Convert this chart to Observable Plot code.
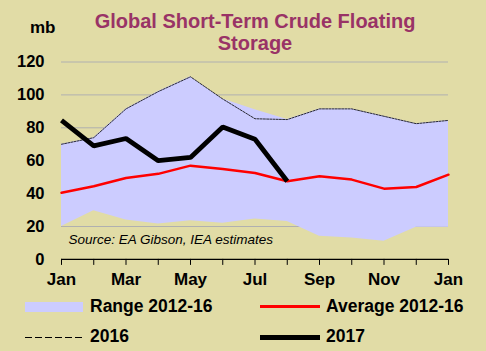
<!DOCTYPE html>
<html>
<head>
<meta charset="utf-8">
<script src="https://cdn.jsdelivr.net/npm/d3@7"></script>
<script src="https://cdn.jsdelivr.net/npm/@observablehq/plot@0.6"></script>
<style>
  html, body { margin: 0; padding: 0; }
  body { width: 486px; height: 351px; background: #E1DCA6; position: relative; overflow: hidden;
         font-family: "Liberation Sans", Arial, sans-serif; }
  .abs { position: absolute; white-space: nowrap; }
  #title { left: 0; width: 510px; top: 9.5px; text-align: center; font-size: 20px; font-weight: bold;
           line-height: 22.5px; color: #993366; }
  #mb { left: 30px; top: 19px; font-size: 17px; font-weight: bold; line-height: 1; color: #000; }
  #chart { left: 0; top: 50px; }
  .lg { font-size: 17.5px; font-weight: bold; line-height: 1; color: #000; }
</style>
</head>
<body>
<div id="title" class="abs">Global Short-Term Crude Floating<br>Storage</div>
<div id="mb" class="abs">mb</div>
<div id="chart" class="abs"></div>

<div class="abs" style="left:25px;top:302.3px;width:58px;height:9.4px;background:#CCCCFF"></div>
<div class="abs lg" style="left:90px;top:297.5px">Range 2012-16</div>
<div class="abs" style="left:260px;top:305.3px;width:60px;height:3px;background:#FF0000"></div>
<div class="abs lg" style="left:326px;top:297.5px">Average 2012-16</div>
<div class="abs" style="left:25px;top:337px;width:58px;height:1px;background:repeating-linear-gradient(to right,#000 0 7px,transparent 7px 10px)"></div>
<div class="abs lg" style="left:90px;top:327.5px">2016</div>
<div class="abs" style="left:260px;top:334.5px;width:60px;height:5px;background:#000"></div>
<div class="abs lg" style="left:326px;top:327.5px">2017</div>

<script>
const months = ["Jan","Feb","Mar","Apr","May","Jun","Jul","Aug","Sep","Oct","Nov","Dec","Jan"];
const rangeLow  = [20, 29.5, 24, 21.5, 23.5, 22, 24.5, 23, 14, 13, 11, 19.5, 19.5];
const rangeHigh = [70, 74, 91.5, 102, 111, 97.5, 91, 85, 91.5, 91.5, 87, 82.5, 84.5];
const avg2012_16 = [40.5, 44.5, 49.5, 52, 57, 55, 52.5, 47.5, 50.5, 48.5, 43, 44, 51.5];
const y2016 = [70, 74, 91.5, 102, 111, 97.5, 85.5, 85, 91.5, 91.5, 87, 82.5, 84.5];
const y2017 = [84.5, 69, 73.5, 60, 62, 80.5, 73, 47.5];
const yTicks = [0, 20, 40, 60, 80, 100, 120];
const sourceText = "Source: EA Gibson, IEA estimates";

const rows = months.map((m, i) => ({i, m, low: rangeLow[i], high: rangeHigh[i], avg: avg2012_16[i], v2016: y2016[i]}));
const rows2017 = y2017.map((v, i) => ({i, v}));

const chart = Plot.plot({
  width: 486,
  height: 242,
  marginLeft: 61,
  marginRight: 38,
  marginTop: 11.5,
  marginBottom: 33.1,
  style: {background: "transparent", fontFamily: "Liberation Sans, Arial, sans-serif", fontWeight: "bold", fontSize: "16.5px", color: "#000"},
  x: {domain: [0, 12]},
  y: {domain: [0, 120]},
  marks: [
    Plot.gridY(yTicks.filter(t => t > 0), {stroke: "#B0B0B0", strokeOpacity: 1, strokeWidth: 1}),
    Plot.areaY(rows, {x: "i", y1: "low", y2: "high", fill: "#CCCCFF", curve: "linear"}),
    Plot.line(rows, {x: "i", y: "v2016", stroke: "#000", strokeWidth: 0.8, strokeDasharray: "2,1.2"}),
    Plot.line(rows, {x: "i", y: "avg", stroke: "#FF0000", strokeWidth: 2.5}),
    Plot.line(rows2017, {x: "i", y: "v", stroke: "#000", strokeWidth: 4.8, strokeLinejoin: "miter", strokeLinecap: "butt"}),
    Plot.text([sourceText], {frameAnchor: "bottom-left", dx: 7, dy: -20, textAnchor: "start", lineAnchor: "middle",
      fontStyle: "italic", fontWeight: "normal", fontSize: 13.5, fill: "#000"}),
    Plot.ruleY([0], {stroke: "#000", strokeWidth: 1.2}),
    Plot.axisY({ticks: yTicks, tickSize: 0, tickPadding: 17, label: null, fontSize: 16.5}),
    Plot.axisX({ticks: d3.range(13), tickSize: 6, tickFormat: () => "", label: null, stroke: "#000"}),
    Plot.axisX({ticks: d3.range(0, 13, 2), tickSize: 0, tickPadding: 14, tickFormat: i => months[i], label: null, fontSize: 17})
  ]
});
document.getElementById("chart").appendChild(chart);
</script>
</body>
</html>
